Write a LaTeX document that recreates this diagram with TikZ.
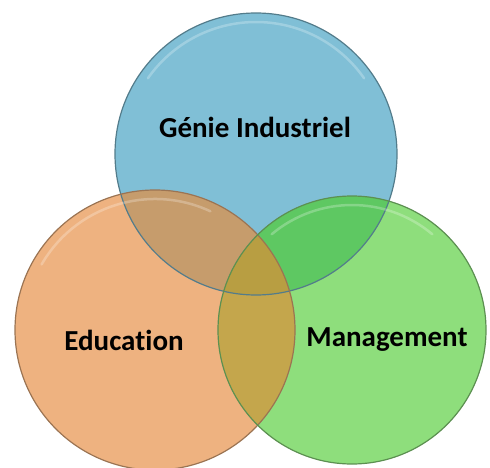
\documentclass[tikz,border=0pt]{standalone}
\usepackage{fontspec}
\setmainfont{Carlito}[Ligatures=NoCommon]
\definecolor{giblue}{RGB}{128,191,214}
\definecolor{edorange}{RGB}{238,178,128}
\definecolor{mggreen}{RGB}{142,222,124}
\definecolor{giedbrown}{RGB}{198,156,108}
\definecolor{gimggreen}{RGB}{94,200,98}
\definecolor{edmgolive}{RGB}{196,166,76}
\definecolor{allolive}{RGB}{184,158,66}
\tikzset{
	lbl/.style={font=\fontsize{29}{34}\selectfont\bfseries, text=black},
	rim/.style={draw=#1!65!black, line width=1.2pt},
	shine/.style={white, opacity=0.25, line width=2.5pt, line cap=round}
}

\begin{document}
\begin{tikzpicture}[x=1pt,y=-1pt]
		\useasboundingbox (0,0) rectangle (490,468);
		\def\gicircle{(256,154) circle [radius=141pt]}
		\def\edcircle{(155,330) circle [radius=140pt]}
		\def\mgcircle{(352,330) circle [radius=134pt]}
		% the three sets
		\fill[giblue] \gicircle;
		\fill[edorange] \edcircle;
		\fill[mggreen] \mgcircle;
		% overlaps
		\begin{scope} \clip \gicircle; \fill[giedbrown] \edcircle; \end{scope}
		\begin{scope} \clip \gicircle; \fill[gimggreen] \mgcircle; \end{scope}
		\begin{scope} \clip \edcircle; \fill[edmgolive] \mgcircle; \end{scope}
		\begin{scope} \clip \gicircle; \clip \edcircle; \fill[allolive] \mgcircle; \end{scope}
		% rims and highlights
		\draw[rim=giblue] \gicircle;
		\draw[rim=edorange] \edcircle;
		\draw[rim=mggreen] \mgcircle;
		\draw[shine] (256,154) ++(145:132pt) arc [start angle=145, end angle=35, radius=132pt];
		\draw[shine] (155,330) ++(150:131pt) arc [start angle=150, end angle=65, radius=131pt];
		\draw[shine] (352,330) ++(130:125pt) arc [start angle=130, end angle=50, radius=125pt];
		% labels
		\node[lbl] (gi) at (255,127) {Génie Industriel};
		\node[lbl] (ed) at (124,340) {Education};
		\node[lbl] (mg) at (387,340) {Management};
	\end{tikzpicture}
\end{document}
